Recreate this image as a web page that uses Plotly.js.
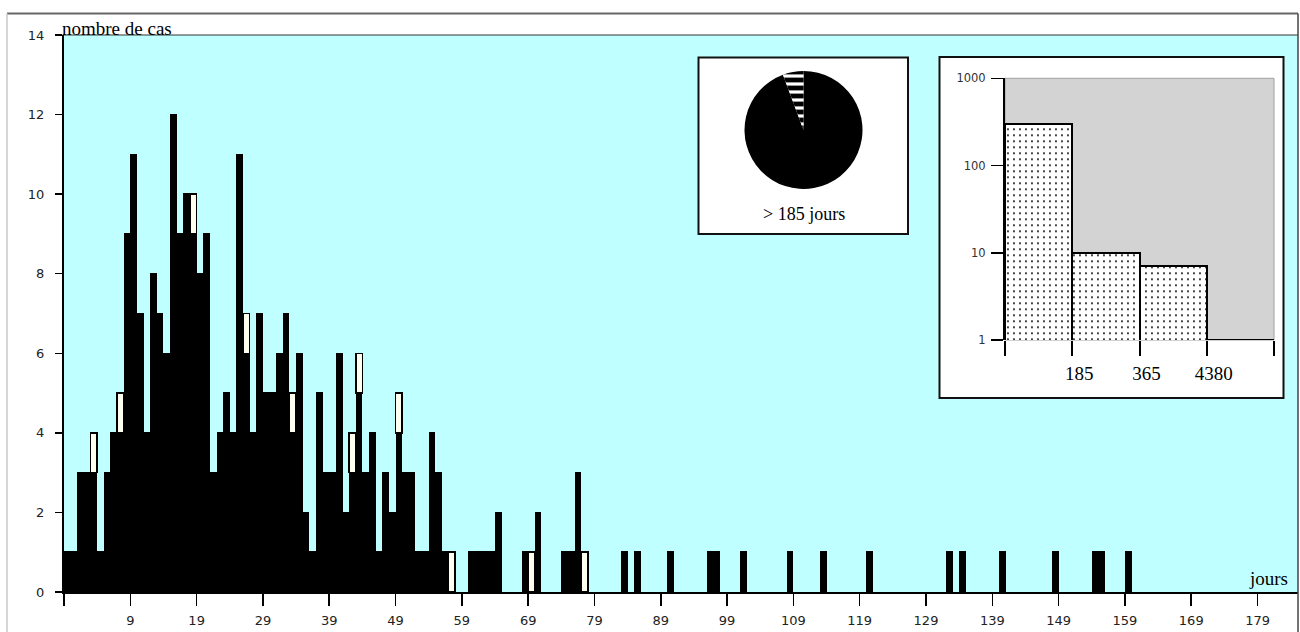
<!DOCTYPE html>
<html>
<head>
<meta charset="utf-8">
<script src="https://cdn.plot.ly/plotly-3.0.1.min.js"></script>
<style>
  html, body { margin: 0; padding: 0; background: #ffffff; }
  #chart { width: 1300px; height: 632px; }
</style>
</head>
<body>
<div id="chart"></div>
<script>
// ---- Histogramme principal : nombre de cas par jour ----
const jours = [
  0,1,2,3,4,5,6,7,8,9,
  10,11,12,13,14,15,16,17,18,19,
  20,21,22,23,24,25,26,27,28,29,
  30,31,32,33,34,35,36,37,38,39,
  40,41,42,43,44,45,46,47,48,49,
  50,51,52,53,54,55,56,57,58,
  61,62,63,64,65,69,70,71,75,76,77,78,
  84,86,91,97,98,102,109,114,121,133,135,141,149,155,156,160
];
const casNoirs = [
  1,1,3,3,3,1,3,4,4,9,
  11,7,4,8,7,6,12,9,10,9,
  8,9,3,4,5,4,11,6,4,7,
  5,5,6,7,4,6,2,1,5,3,
  3,6,2,3,5,3,4,1,3,2,
  4,3,3,1,1,4,3,1,0,
  1,1,1,1,2,1,0,2,1,1,3,0,
  1,1,1,1,1,1,1,1,1,1,1,1,1,1,1,1
];
const casClairs = [
  0,0,0,0,1,0,0,0,1,0,
  0,0,0,0,0,0,0,0,0,1,
  0,0,0,0,0,0,0,1,0,0,
  0,0,0,0,1,0,0,0,0,0,
  0,0,0,1,1,0,0,0,0,0,
  1,0,0,0,0,0,0,0,1,
  0,0,0,0,0,0,1,0,0,0,0,1,
  0,0,0,0,0,0,0,0,0,0,0,0,0,0,0,0
];
const tickJours = [0,10,20,30,40,50,60,70,80,90,100,110,120,130,140,150,160,170,180];
const tickJoursTexte = ['','9','19','29','39','49','59','69','79','89','99','109','119','129','139','149','159','169','179'];
const tickCas = [0,2,4,6,8,10,12,14];

// ---- Encart logarithmique : cas par classe de durée ----
const classesDuree = [0,1,2,3];
const casParClasse = [300,10,7,1];
const bornesPos = [-0.5,0.5,1.5,2.5,3.5];
const bornesTexte = ['','185','365','4380',''];
const tickLog = [1,10,100,1000];

// ---- Camembert : part des cas > 185 jours ----
const partsLabels = ['≤ 185 jours','> 185 jours'];
const partsValeurs = [casParClasse[0], casParClasse[1]+casParClasse[2]+casParClasse[3]];

// pixel -> paper helpers (plot area: x 64..1298, y 35..592)
const L = 64, R = 1298, T = 35, B = 592;
const PW = R - L, PH = B - T;
const fx = p => (p - L) / PW;
const fy = p => (B - p) / PH;

const cyan = '#c0ffff';
const numFont = {family: 'DejaVu Sans', size: 13, color: '#222'};
const serif = 'Liberation Serif';

const traces = [
  {
    type: 'bar', x: jours, y: casNoirs, offset: 0, width: 1,
    marker: {color: '#000000', line: {width: 0}},
    xaxis: 'x', yaxis: 'y', hoverinfo: 'x+y', showlegend: false
  },
  {
    type: 'bar', x: jours, y: casClairs, offset: 0, width: 1,
    marker: {color: '#fffff0', line: {color: '#000000', width: 1.5}},
    xaxis: 'x', yaxis: 'y', hoverinfo: 'x+y', showlegend: false
  },
  {
    type: 'bar', x: classesDuree.slice(0,3), y: casParClasse.slice(0,3), width: 1,
    marker: {
      color: '#ffffff',
      line: {color: '#000000', width: 2},
      pattern: {shape: '.', fgcolor: '#000000', bgcolor: '#ffffff', size: 6, solidity: 0.08}
    },
    xaxis: 'x2', yaxis: 'y2', showlegend: false
  },
  {
    type: 'scatter', mode: 'lines',
    x: [classesDuree[3]-0.5, classesDuree[3]+0.5],
    y: [casParClasse[3], casParClasse[3]],
    line: {color: '#000000', width: 2},
    xaxis: 'x2', yaxis: 'y2', showlegend: false, cliponaxis: false
  },
  {
    type: 'pie', labels: partsLabels, values: partsValeurs,
    sort: false, direction: 'clockwise', rotation: 0,
    textinfo: 'none', hoverinfo: 'label+value', showlegend: false,
    domain: {x: [fx(744.5), fx(862.5)], y: [fy(189), fy(71)]},
    marker: {
      colors: ['#000000','#000000'],
      line: {width: 0},
      pattern: {shape: ['', '-'], fgcolor: '#ffffff', bgcolor: '#000000', size: 8, solidity: 0.4, fillmode: 'replace'}
    }
  }
];

const shapes = [
  // plot background
  {type: 'rect', xref: 'paper', yref: 'paper', x0: 0, x1: 1, y0: 0, y1: 1,
   fillcolor: cyan, line: {width: 0}, layer: 'below'},
  // pie box
  {type: 'rect', xref: 'paper', yref: 'paper', x0: fx(698.5), x1: fx(908), y0: fy(234), y1: fy(57.5),
   fillcolor: '#ffffff', line: {color: '#111', width: 2}, layer: 'below'},
  // log inset box
  {type: 'rect', xref: 'paper', yref: 'paper', x0: fx(939.5), x1: fx(1283.5), y0: fy(398), y1: fy(57),
   fillcolor: '#ffffff', line: {color: '#111', width: 2}, layer: 'below'},
  // grey area of inset
  {type: 'rect', xref: 'paper', yref: 'paper', x0: fx(1005), x1: fx(1274), y0: fy(340), y1: fy(78.3),
   fillcolor: '#d3d3d3', line: {color: '#a0a0a0', width: 1}, layer: 'below'},
  // top border of plot
  {type: 'line', xref: 'paper', yref: 'paper', x0: 0, x1: 1, y0: 1, y1: 1,
   line: {color: '#333', width: 1}},
  // outer frame
  {type: 'line', xref: 'paper', yref: 'paper', x0: fx(7), x1: fx(1298), y0: fy(13.5), y1: fy(13.5),
   line: {color: '#666', width: 2}},
  {type: 'line', xref: 'paper', yref: 'paper', x0: fx(7), x1: fx(7), y0: fy(13.5), y1: fy(640),
   line: {color: '#c8c8c8', width: 1.5}},
  {type: 'line', xref: 'paper', yref: 'paper', x0: 1, x1: 1, y0: fy(13.5), y1: fy(640),
   line: {color: '#444', width: 1.5}}
];

const annotations = [
  {text: 'nombre de cas', xref: 'paper', yref: 'paper', x: fx(60), y: fy(41),
   xanchor: 'left', yanchor: 'bottom', showarrow: false,
   font: {family: serif, size: 19, color: '#000'}},
  {text: 'jours', xref: 'paper', yref: 'paper', x: fx(1290), y: fy(591),
   xanchor: 'right', yanchor: 'bottom', showarrow: false,
   font: {family: serif, size: 19, color: '#000'}},
  {text: '&gt; 185 jours', xref: 'paper', yref: 'paper', x: fx(804), y: fy(214),
   xanchor: 'center', yanchor: 'middle', showarrow: false,
   font: {family: serif, size: 18, color: '#000'}}
];

const layout = {
  width: 1300, height: 632,
  margin: {l: L, r: 1300 - R, t: T, b: 632 - B, pad: 0},
  paper_bgcolor: '#ffffff',
  plot_bgcolor: 'rgba(0,0,0,0)',
  barmode: 'stack', bargap: 0,
  showlegend: false,
  xaxis: {
    domain: [0, 1], range: [0, 186.1], anchor: 'y',
    tickmode: 'array', tickvals: tickJours, ticktext: tickJoursTexte,
    ticks: 'outside', ticklen: 12, tickwidth: 1.5, tickcolor: '#000',
    ticklabelstandoff: 3,
    showline: true, linecolor: '#000', linewidth: 2,
    showgrid: false, zeroline: false, tickfont: numFont, fixedrange: true
  },
  yaxis: {
    domain: [0, 1], range: [0, 14], anchor: 'x',
    tickmode: 'array', tickvals: tickCas,
    ticks: 'outside', ticklen: 7, tickwidth: 1.5, tickcolor: '#000',
    ticklabelstandoff: 8,
    showline: true, linecolor: '#000', linewidth: 2,
    showgrid: false, zeroline: false, tickfont: numFont, fixedrange: true
  },
  xaxis2: {
    domain: [fx(1005), fx(1274)], range: [-0.5, 3.5], anchor: 'y2',
    tickmode: 'array', tickvals: bornesPos, ticktext: bornesTexte,
    ticks: 'outside', ticklen: 15, tickwidth: 2, tickcolor: '#000',
    ticklabelshift: 7, ticklabelstandoff: 1,
    showline: false, showgrid: false, zeroline: false,
    tickfont: {family: serif, size: 19, color: '#000'}, fixedrange: true
  },
  yaxis2: {
    domain: [fy(340), fy(78.3)], type: 'log', range: [0, 3], anchor: 'x2',
    tickmode: 'array', tickvals: tickLog, ticktext: tickLog.map(String),
    ticks: 'outside', ticklen: 12, tickwidth: 1.5, tickcolor: '#000',
    ticklabelstandoff: 3,
    showline: true, linecolor: '#000', linewidth: 2,
    showgrid: false, zeroline: false, tickfont: {family: 'DejaVu Sans', size: 11.5, color: '#333'},
    fixedrange: true
  },
  shapes: shapes,
  annotations: annotations
};

Plotly.newPlot('chart', traces, layout, {displayModeBar: false, staticPlot: true});
</script>
</body>
</html>
